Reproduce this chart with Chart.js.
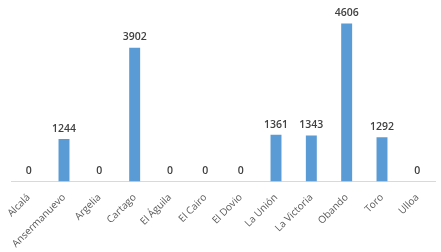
<!DOCTYPE html>
<html>
<head>
<meta charset="utf-8">
<script src="https://cdn.jsdelivr.net/npm/chart.js@4"></script>
<style>
  html, body { margin: 0; padding: 0; background: #fff; }
  #grafico { display: block; }
</style>
</head>
<body>
<canvas id="grafico" width="441" height="252"></canvas>
<script>
const municipios = ["Alcalá", "Ansermanuevo", "Argelia", "Cartago", "El Águila", "El Cairo", "El Dovio", "La Unión", "La Victoria", "Obando", "Toro", "Ulloa"];
const valores = [0, 1244, 0, 3902, 0, 0, 0, 1361, 1343, 4606, 1292, 0];

// rótulos de valor acima de cada barra
const rotulos = {
    id: 'rotulos',
    afterDatasetsDraw(chart) {
        const ctx = chart.ctx;
        const meta = chart.getDatasetMeta(0);
        ctx.save();
        ctx.fillStyle = '#404040';
        ctx.font = '600 10.5px "Open Sans", sans-serif';
        ctx.textAlign = 'center';
        ctx.textBaseline = 'bottom';
        meta.data.forEach((bar, i) => {
            ctx.fillText(String(valores[i]), bar.x, bar.y - 5);
        });
        ctx.restore();
    }
};

new Chart(document.getElementById('grafico'), {
    type: 'bar',
    data: {
        labels: municipios,
        datasets: [{
            data: valores,
            backgroundColor: '#5B9BD5',
            barPercentage: 0.62,
            categoryPercentage: 0.5
        }]
    },
    options: {
        responsive: false,
        animation: false,
        layout: { padding: { top: 10, left: 11, right: 6, bottom: 0 } },
        plugins: {
            legend: { display: false },
            tooltip: { enabled: false }
        },
        scales: {
            x: {
                grid: { display: false },
                border: { color: '#D9D9D9' },
                ticks: {
                    color: '#595959',
                    font: { family: '"Open Sans", sans-serif', size: 10 },
                    minRotation: 45,
                    maxRotation: 45,
                    padding: 2
                }
            },
            y: {
                display: false,
                min: 0,
                max: 5000
            }
        }
    },
    plugins: [rotulos]
});
</script>
</body>
</html>
